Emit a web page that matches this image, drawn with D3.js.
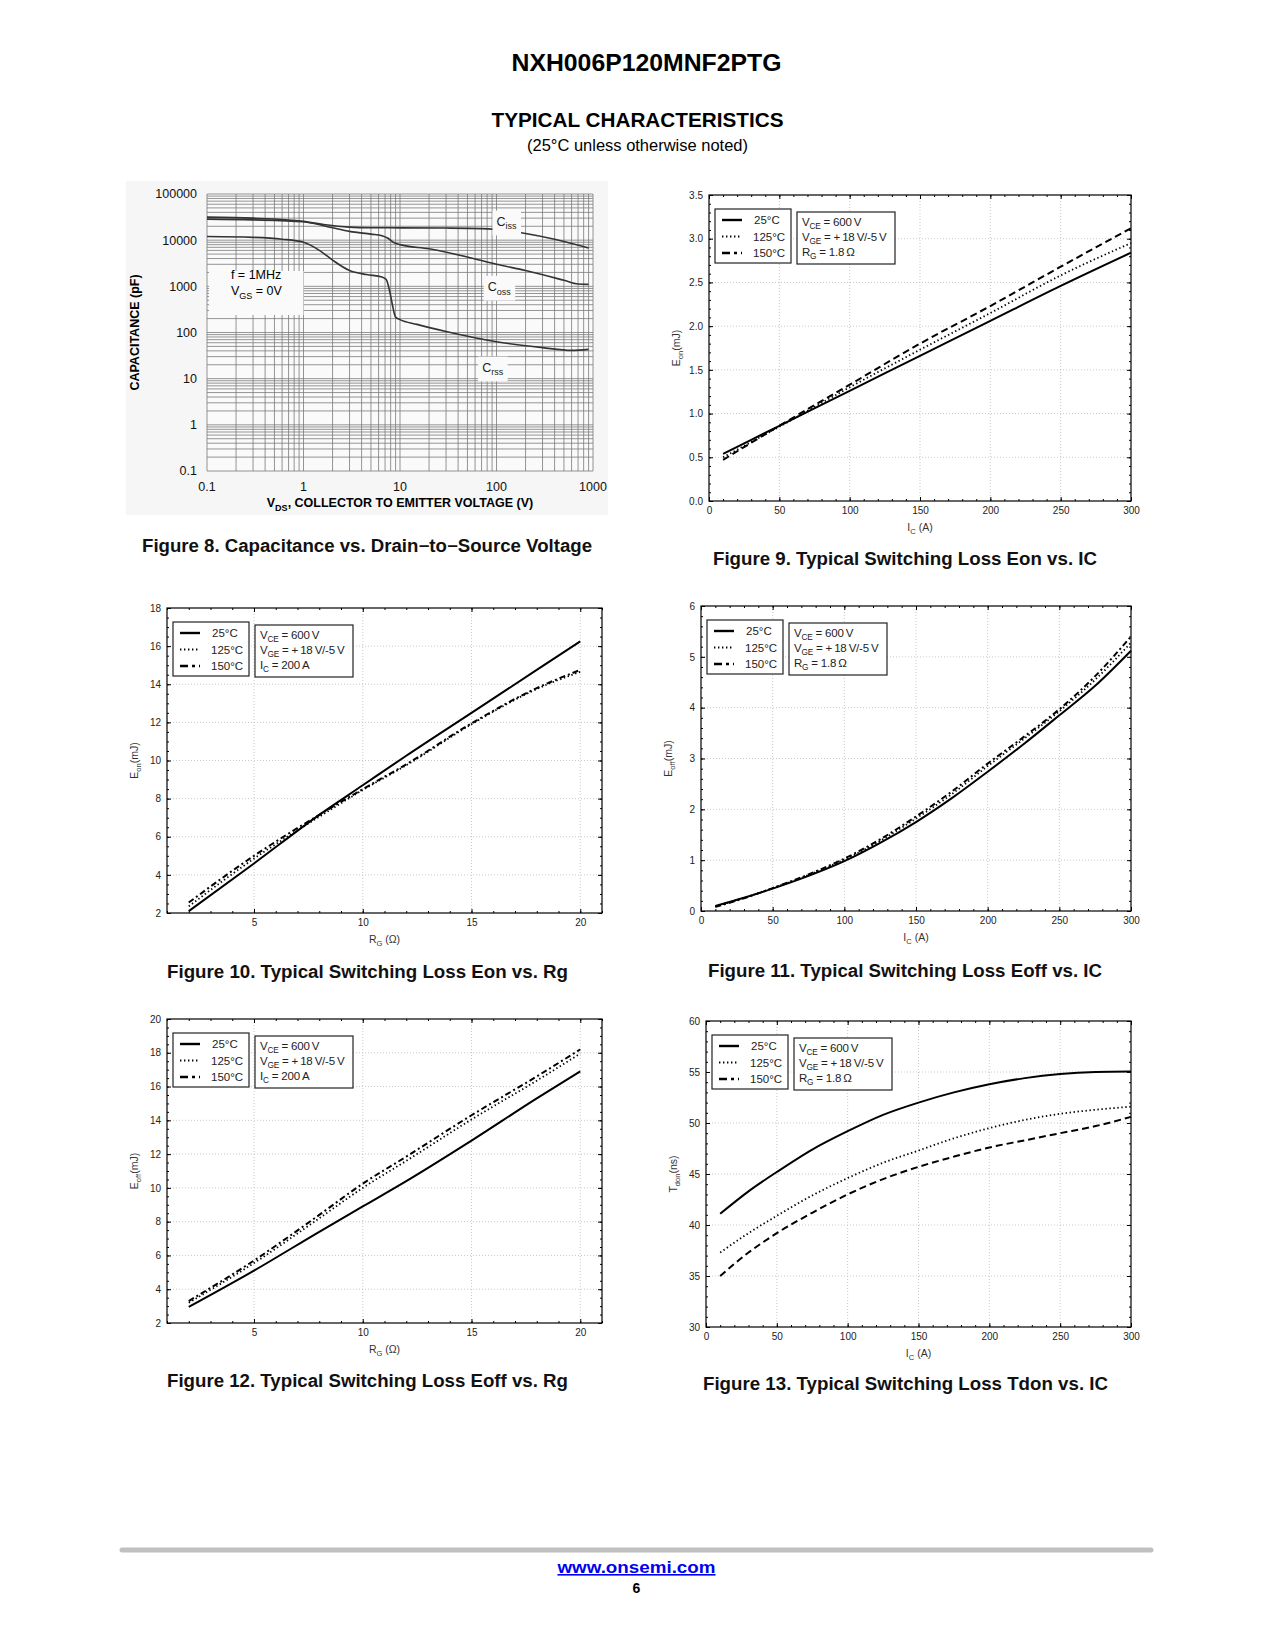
<!DOCTYPE html>
<html>
<head>
<meta charset="utf-8">
<script src="https://cdn.jsdelivr.net/npm/d3@7"></script>
<style>
body{margin:0;background:#fff;}
svg{display:block;font-family:"Liberation Sans",Arial,Helvetica,sans-serif;}
</style>
</head>
<body>
<script>
// ---------------- DATA ----------------
// Figure 8: capacitance vs VDS (log-log)
const cissV = [0.1, 0.3, 1, 1.7, 3, 5, 10, 30, 70, 100, 200, 400, 900];
const cissC = [31500, 30000, 25500, 21500, 19200, 18600, 18500, 18300, 17800, 17000, 14000, 10500, 6800];
const cossV = [0.1, 0.3, 1, 2, 3, 5, 6.5, 7.5, 8.5, 10, 20, 50, 100, 200, 500, 700, 900];
const cossC = [28500, 27500, 25000, 18500, 15500, 13500, 12500, 11000, 9000, 8000, 6500, 4300, 3000, 2200, 1350, 1120, 1100];
const crssV = [0.1, 0.3, 0.6, 1, 1.5, 2, 3, 4.5, 6.5, 7.2, 7.8, 8.3, 9, 10, 15, 30, 100, 300, 600, 900];
const crssC = [12000, 11500, 10500, 9000, 5800, 3700, 2200, 1800, 1600, 1400, 800, 420, 215, 190, 150, 105, 63, 47, 41, 43];
const capXTicks = [0.1, 1, 10, 100, 1000];
const capYTicks = [0.1, 1, 10, 100, 1000, 10000, 100000];
const capXLabels = ["0.1", "1", "10", "100", "1000"];
const capYLabels = ["0.1", "1", "10", "100", "1000", "10000", "100000"];

// Figure 9: Eon vs IC
const ic9 = [10, 50, 100, 150, 200, 250, 300];
const eon9_25 = [0.54, 0.86, 1.26, 1.66, 2.06, 2.46, 2.84];
const eon9_125 = [0.50, 0.85, 1.30, 1.73, 2.15, 2.58, 2.95];
const eon9_150 = [0.47, 0.86, 1.33, 1.80, 2.23, 2.68, 3.12];

// Figure 10: Eon vs Rg
const rg10 = [2, 5, 8, 10, 12, 15, 18, 20];
const eon10_25 = [2.1, 4.6, 7.15, 8.7, 10.25, 12.5, 14.75, 16.25];
const eon10_125 = [2.35, 4.85, 7.05, 8.45, 9.75, 11.9, 13.75, 14.65];
const eon10_150 = [2.55, 5.0, 7.15, 8.5, 9.8, 11.95, 13.8, 14.75];

// Figure 11: Eoff vs IC
const ic11 = [10, 30, 50, 75, 100, 125, 150, 175, 200, 225, 250, 275, 300];
const eoff11_25 = [0.10, 0.26, 0.44, 0.69, 0.98, 1.34, 1.75, 2.22, 2.74, 3.28, 3.85, 4.43, 5.12];
const eoff11_125 = [0.09, 0.26, 0.45, 0.71, 1.01, 1.38, 1.82, 2.30, 2.85, 3.38, 3.93, 4.55, 5.28];
const eoff11_150 = [0.08, 0.25, 0.45, 0.72, 1.03, 1.41, 1.86, 2.35, 2.90, 3.42, 3.97, 4.62, 5.40];

// Figure 12: Eoff vs Rg
const rg12 = [2, 5, 8, 10, 12, 15, 18, 20];
const eoff12_25 = [2.95, 5.1, 7.4, 8.9, 10.4, 12.8, 15.3, 16.9];
const eoff12_125 = [3.2, 5.55, 8.2, 10.0, 11.6, 14.05, 16.35, 17.95];
const eoff12_150 = [3.3, 5.7, 8.4, 10.25, 11.85, 14.3, 16.6, 18.2];

// Figure 13: Tdon vs IC
const ic13 = [10, 30, 50, 75, 100, 125, 150, 175, 200, 225, 250, 275, 300];
const td13_25 = [41.1, 43.3, 45.2, 47.4, 49.2, 50.8, 52.0, 53.0, 53.8, 54.4, 54.8, 55.0, 55.05];
const td13_125 = [37.3, 39.2, 40.9, 42.9, 44.6, 46.1, 47.3, 48.5, 49.5, 50.3, 50.9, 51.3, 51.6];
const td13_150 = [35.0, 37.3, 39.2, 41.2, 43.0, 44.5, 45.7, 46.7, 47.6, 48.3, 49.0, 49.7, 50.6];

const tempLabels = ["25°C", "125°C", "150°C"];

// ---------------- DRAWING ----------------
const W = 1275, H = 1650;
const svg = d3.select("body").append("svg").attr("width", W).attr("height", H);
svg.append("rect").attr("width", W).attr("height", H).attr("fill", "#fff");

// rich text helper: parts = [[text, isSub], ...]
function rich(sel, parts, fs) {
  let sub = false;
  parts.forEach(([t, s]) => {
    const ts = sel.append("tspan").text(t);
    if (s && !sub) { ts.attr("dy", fs * 0.3).attr("font-size", fs * 0.72); sub = true; }
    else if (s) { ts.attr("font-size", fs * 0.72); }
    else if (!s && sub) { ts.attr("dy", -fs * 0.3); sub = false; }
  });
  return sel;
}

// Page headings
svg.append("text").attr("x", 646.5).attr("y", 71).attr("text-anchor", "middle")
  .attr("font-size", 24.5).attr("font-weight", "bold")
  .attr("textLength", 270).attr("lengthAdjust", "spacingAndGlyphs").text("NXH006P120MNF2PTG");
svg.append("text").attr("x", 637.5).attr("y", 127).attr("text-anchor", "middle")
  .attr("font-size", 20.5).attr("font-weight", "bold")
  .attr("textLength", 292).attr("lengthAdjust", "spacingAndGlyphs").text("TYPICAL CHARACTERISTICS");
svg.append("text").attr("x", 637.5).attr("y", 151).attr("text-anchor", "middle")
  .attr("font-size", 16).attr("textLength", 221).attr("lengthAdjust", "spacingAndGlyphs")
  .text("(25°C unless otherwise noted)");

// ---------- Figure 8 (log-log) ----------
(function () {
  const L = 207, T = 194, Wp = 386, Hp = 277;
  svg.append("rect").attr("x", 126).attr("y", 181).attr("width", 482).attr("height", 334).attr("fill", "#f6f6f6");
  const g = svg.append("g").attr("transform", `translate(${L},${T})`);
  const x = d3.scaleLog().domain([0.1, 1000]).range([0, Wp]);
  const y = d3.scaleLog().domain([0.1, 100000]).range([Hp, 0]);
  g.append("rect").attr("width", Wp).attr("height", Hp).attr("fill", "#fafafa");
  const xs = [], ys = [];
  for (let d = -1; d < 3; d++) for (let k = 1; k < 10; k++) xs.push(k * Math.pow(10, d));
  xs.push(1000);
  for (let d = -1; d < 5; d++) for (let k = 1; k < 10; k++) ys.push(k * Math.pow(10, d));
  ys.push(100000);
  g.append("g").selectAll("line").data(xs).join("line")
    .attr("x1", d => x(d)).attr("x2", d => x(d)).attr("y1", 0).attr("y2", Hp)
    .attr("stroke", "#7a7a7a").attr("stroke-width", 0.8);
  g.append("g").selectAll("line").data(ys).join("line")
    .attr("y1", d => y(d)).attr("y2", d => y(d)).attr("x1", 0).attr("x2", Wp)
    .attr("stroke", "#7a7a7a").attr("stroke-width", 0.8);

  // annotation box
  g.append("rect").attr("x", x(0.105)).attr("y", y(2150)).attr("width", x(1) - x(0.105))
    .attr("height", y(240) - y(2150)).attr("fill", "#fafafa");
  rich(g.append("text").attr("x", x(0.177)).attr("y", y(1450)).attr("font-size", 12.5), [["f = 1MHz", false]], 12.5);
  rich(g.append("text").attr("x", x(0.177)).attr("y", y(640)).attr("font-size", 12.5), [["V", false], ["GS", true], [" = 0V", false]], 12.5);

  const line = d3.line().x(d => x(d[0])).y(d => y(d[1])).curve(d3.curveMonotoneX);
  [[cissV, cissC], [cossV, cossC], [crssV, crssC]].forEach(([vx, vy]) => {
    g.append("path").attr("d", line(vx.map((v, i) => [v, vy[i]])))
      .attr("fill", "none").attr("stroke", "#333").attr("stroke-width", 1.6);
  });

  // curve labels with backing
  function lab(vx, vy, name, sub) {
    const t = g.append("text").attr("x", x(vx)).attr("y", y(vy)).attr("font-size", 12.5).attr("fill", "#222");
    rich(t, [[name, false], [sub, true]], 12.5);
    const b = t.node().getBBox();
    g.insert("rect", () => t.node()).attr("x", b.x - 4).attr("y", b.y - 4)
      .attr("width", b.width + 8).attr("height", b.height + 8).attr("fill", "#fafafa");
  }
  lab(100, 32000 / 1.55, "C", "iss");
  lab(81, 1240 / 1.55, "C", "oss");
  lab(71, 22 / 1.55, "C", "rss");

  // tick labels
  g.append("g").selectAll("text").data(capYTicks).join("text")
    .attr("x", -10).attr("y", d => y(d)).attr("dy", "0.35em").attr("text-anchor", "end")
    .attr("font-size", 12.5).attr("fill", "#111").text((d, i) => capYLabels[i]);
  g.append("g").selectAll("text").data(capXTicks).join("text")
    .attr("x", d => x(d)).attr("y", Hp + 20).attr("text-anchor", "middle")
    .attr("font-size", 12.5).attr("fill", "#111").text((d, i) => capXLabels[i]);
  rich(g.append("text").attr("x", Wp / 2).attr("y", Hp + 36).attr("text-anchor", "middle")
    .attr("font-size", 12.5).attr("font-weight", "bold"),
    [["V", false], ["DS", true], [", COLLECTOR TO EMITTER VOLTAGE (V)", false]], 12.5);
  g.append("text").attr("transform", `translate(-68,${Hp / 2}) rotate(-90)`).attr("text-anchor", "middle")
    .attr("font-size", 12.5).attr("font-weight", "bold").text("CAPACITANCE (pF)");
})();

// ---------- Linear chart builder ----------
const styles = {
  solid: { w: 2, dash: null },
  dot: { w: 1.8, dash: "1.4,2.6" },
  dashdot: { w: 2, dash: "6,3,2,3" },
  dash: { w: 2, dash: "7,4" }
};
const legendDash = "8,4,3,4";

function linChart(c) {
  const g = svg.append("g").attr("transform", `translate(${c.left},${c.top})`);
  const x = d3.scaleLinear().domain(c.xDomain).range([0, c.w]);
  const y = d3.scaleLinear().domain(c.yDomain).range([c.h, 0]);
  // dotted grid
  g.append("g").selectAll("line").data(c.xTicks.filter(v => v > c.xDomain[0] && v < c.xDomain[1])).join("line")
    .attr("x1", d => x(d)).attr("x2", d => x(d)).attr("y1", 0).attr("y2", c.h)
    .attr("stroke", "#bbb").attr("stroke-width", 0.8).attr("stroke-dasharray", "1,2");
  g.append("g").selectAll("line").data(c.yTicks.filter(v => v > c.yDomain[0] && v < c.yDomain[1])).join("line")
    .attr("y1", d => y(d)).attr("y2", d => y(d)).attr("x1", 0).attr("x2", c.w)
    .attr("stroke", "#bbb").attr("stroke-width", 0.8).attr("stroke-dasharray", "1,2");

  const style = sel => {
    sel.select(".domain").remove();
    sel.selectAll("text").attr("font-size", 10).attr("fill", "#222")
      .attr("font-family", '"Liberation Sans",Arial,sans-serif');
  };
  const minX = d3.range(c.xDomain[0], c.xDomain[1] + 1e-9, c.xMinor);
  const minY = d3.range(c.yDomain[0], c.yDomain[1] + 1e-9, c.yMinor);
  g.append("g").attr("transform", `translate(0,${c.h})`)
    .call(d3.axisBottom(x).tickValues(c.xTicks).tickSize(-4).tickSizeOuter(0).tickPadding(6).tickFormat(c.xFmt)).call(style);
  g.append("g").attr("transform", `translate(0,${c.h})`)
    .call(d3.axisBottom(x).tickValues(minX).tickSize(-2).tickSizeOuter(0).tickFormat("")).call(style);
  g.append("g").call(d3.axisTop(x).tickValues(c.xTicks).tickSize(-4).tickSizeOuter(0).tickFormat("")).call(style);
  g.append("g").call(d3.axisTop(x).tickValues(minX).tickSize(-2).tickSizeOuter(0).tickFormat("")).call(style);
  g.append("g").call(d3.axisLeft(y).tickValues(c.yTicks).tickSize(-4).tickSizeOuter(0).tickPadding(6).tickFormat(c.yFmt)).call(style);
  g.append("g").call(d3.axisLeft(y).tickValues(minY).tickSize(-2).tickSizeOuter(0).tickFormat("")).call(style);
  g.append("g").attr("transform", `translate(${c.w},0)`)
    .call(d3.axisRight(y).tickValues(c.yTicks).tickSize(-4).tickSizeOuter(0).tickFormat("")).call(style);
  g.append("g").attr("transform", `translate(${c.w},0)`)
    .call(d3.axisRight(y).tickValues(minY).tickSize(-2).tickSizeOuter(0).tickFormat("")).call(style);
  g.append("rect").attr("width", c.w).attr("height", c.h).attr("fill", "none").attr("stroke", "#000").attr("stroke-width", 1.2);

  const line = d3.line().x(d => x(d[0])).y(d => y(d[1])).curve(d3.curveMonotoneX);
  c.series.forEach(s => {
    const st = styles[s.style];
    g.append("path").attr("d", line(c.xs.map((v, i) => [v, s.ys[i]])))
      .attr("fill", "none").attr("stroke", "#000").attr("stroke-width", st.w)
      .attr("stroke-dasharray", st.dash);
  });

  // axis labels
  rich(g.append("text").attr("x", c.w / 2).attr("y", c.h + 30).attr("text-anchor", "middle")
    .attr("font-size", 10.5).attr("fill", "#333"), c.xLabel, 10.5);
  rich(g.append("text").attr("transform", `translate(-29,${c.h / 2}) rotate(-90)`).attr("text-anchor", "middle")
    .attr("font-size", 10.5).attr("fill", "#333"), c.yLabel, 10.5);

  // legend box 1
  const lg = g.append("g").attr("transform", "translate(6,14)");
  lg.append("rect").attr("width", 76).attr("height", 54).attr("fill", "#fff").attr("stroke", "#222").attr("stroke-width", 1.2);
  const legStyles = ["solid", "dot", "legend"];
  tempLabels.forEach((t, i) => {
    const yy = 11 + i * 16.5;
    const st = legStyles[i];
    lg.append("line").attr("x1", 7).attr("x2", 27).attr("y1", yy).attr("y2", yy)
      .attr("stroke", "#000").attr("stroke-width", st === "dot" ? 1.8 : 2.4)
      .attr("stroke-dasharray", st === "dot" ? "1.4,2.6" : st === "legend" ? legendDash : null);
    lg.append("text").attr("x", i === 0 ? 39 : 38).attr("y", yy + 4)
      .attr("font-size", 11.5).attr("fill", "#222").text(t);
  });
  // legend box 2
  const cg = g.append("g").attr("transform", "translate(88,17)");
  cg.append("rect").attr("width", 98).attr("height", 52).attr("fill", "#fff").attr("stroke", "#222").attr("stroke-width", 1.2);
  c.cond.forEach((parts, i) => {
    rich(cg.append("text").attr("x", 5).attr("y", 14 + i * 15).attr("font-size", 11.5)
      .attr("letter-spacing", -0.2).attr("fill", "#222"), parts, 11.5);
  });
}

const TS = "\u2009";
const condRg = [[["V", false], ["CE", true], [" = 600" + TS + "V", false]],
                [["V", false], ["GE", true], [" = +" + TS + "18" + TS + "V/-5" + TS + "V", false]],
                [["R", false], ["G", true], [" = 1.8" + TS + "Ω", false]]];
const condIc = [[["V", false], ["CE", true], [" = 600" + TS + "V", false]],
                [["V", false], ["GE", true], [" = +" + TS + "18" + TS + "V/-5" + TS + "V", false]],
                [["I", false], ["C", true], [" = 200" + TS + "A", false]]];
const f1 = d3.format(".1f");

linChart({
  left: 709, top: 195, w: 422, h: 306,
  xDomain: [0, 300], yDomain: [0, 3.5],
  xTicks: [0, 50, 100, 150, 200, 250, 300], yTicks: [0, 0.5, 1, 1.5, 2, 2.5, 3, 3.5],
  xMinor: 10, yMinor: 0.1, xFmt: d3.format("d"), yFmt: f1,
  xs: ic9,
  series: [{ ys: eon9_25, style: "solid" }, { ys: eon9_125, style: "dot" }, { ys: eon9_150, style: "dash" }],
  xLabel: [["I", false], ["C", true], [" (A)", false]],
  yLabel: [["E", false], ["on", true], ["(mJ)", false]],
  cond: condRg
});

linChart({
  left: 167, top: 608, w: 435, h: 305,
  xDomain: [1, 21], yDomain: [2, 18],
  xTicks: [5, 10, 15, 20], yTicks: [2, 4, 6, 8, 10, 12, 14, 16, 18],
  xMinor: 1, yMinor: 0.5, xFmt: d3.format("d"), yFmt: d3.format("d"),
  xs: rg10,
  series: [{ ys: eon10_25, style: "solid" }, { ys: eon10_125, style: "dot" }, { ys: eon10_150, style: "dashdot" }],
  xLabel: [["R", false], ["G", true], [" (Ω)", false]],
  yLabel: [["E", false], ["on", true], ["(mJ)", false]],
  cond: condIc
});

linChart({
  left: 701, top: 606, w: 430, h: 305,
  xDomain: [0, 300], yDomain: [0, 6],
  xTicks: [0, 50, 100, 150, 200, 250, 300], yTicks: [0, 1, 2, 3, 4, 5, 6],
  xMinor: 10, yMinor: 0.2, xFmt: d3.format("d"), yFmt: d3.format("d"),
  xs: ic11,
  series: [{ ys: eoff11_25, style: "solid" }, { ys: eoff11_125, style: "dot" }, { ys: eoff11_150, style: "dashdot" }],
  xLabel: [["I", false], ["C", true], [" (A)", false]],
  yLabel: [["E", false], ["off", true], ["(mJ)", false]],
  cond: condRg
});

linChart({
  left: 167, top: 1019, w: 435, h: 304,
  xDomain: [1, 21], yDomain: [2, 20],
  xTicks: [5, 10, 15, 20], yTicks: [2, 4, 6, 8, 10, 12, 14, 16, 18, 20],
  xMinor: 1, yMinor: 0.5, xFmt: d3.format("d"), yFmt: d3.format("d"),
  xs: rg12,
  series: [{ ys: eoff12_25, style: "solid" }, { ys: eoff12_125, style: "dot" }, { ys: eoff12_150, style: "dashdot" }],
  xLabel: [["R", false], ["G", true], [" (Ω)", false]],
  yLabel: [["E", false], ["off", true], ["(mJ)", false]],
  cond: condIc
});

linChart({
  left: 706, top: 1021, w: 425, h: 306,
  xDomain: [0, 300], yDomain: [30, 60],
  xTicks: [0, 50, 100, 150, 200, 250, 300], yTicks: [30, 35, 40, 45, 50, 55, 60],
  xMinor: 10, yMinor: 1, xFmt: d3.format("d"), yFmt: d3.format("d"),
  xs: ic13,
  series: [{ ys: td13_25, style: "solid" }, { ys: td13_125, style: "dot" }, { ys: td13_150, style: "dash" }],
  xLabel: [["I", false], ["C", true], [" (A)", false]],
  yLabel: [["T", false], ["don", true], ["(ns)", false]],
  cond: condRg
});

// captions [text, centerX, baselineY, width]
const captions = [
  ["Figure 8. Capacitance vs. Drain\u2212to\u2212Source Voltage", 367, 552, 450],
  ["Figure 9. Typical Switching Loss Eon vs. IC", 905, 564.5, 384],
  ["Figure 10. Typical Switching Loss Eon vs. Rg", 367.5, 978, 401],
  ["Figure 11. Typical Switching Loss Eoff vs. IC", 905, 977, 394],
  ["Figure 12. Typical Switching Loss Eoff vs. Rg", 367.5, 1387, 401],
  ["Figure 13. Typical Switching Loss Tdon vs. IC", 905.5, 1389.5, 405]
];
svg.append("g").selectAll("text").data(captions).join("text")
  .attr("x", d => d[1]).attr("y", d => d[2]).attr("text-anchor", "middle")
  .attr("font-size", 17.5).attr("font-weight", "bold").attr("fill", "#111")
  .attr("textLength", d => d[3]).attr("lengthAdjust", "spacingAndGlyphs").text(d => d[0]);

// footer
svg.append("line").attr("x1", 122).attr("x2", 1151).attr("y1", 1550).attr("y2", 1550)
  .attr("stroke", "#c0c0c0").attr("stroke-width", 5).attr("stroke-linecap", "round");
svg.append("text").attr("x", 636.5).attr("y", 1573).attr("text-anchor", "middle")
  .attr("font-size", 16).attr("font-weight", "bold").attr("fill", "#0000ee")
  .attr("text-decoration", "underline").attr("textLength", 158).attr("lengthAdjust", "spacingAndGlyphs")
  .text("www.onsemi.com");
svg.append("text").attr("x", 636.5).attr("y", 1593).attr("text-anchor", "middle")
  .attr("font-size", 14).attr("font-weight", "bold").text("6");
</script>
</body>
</html>
